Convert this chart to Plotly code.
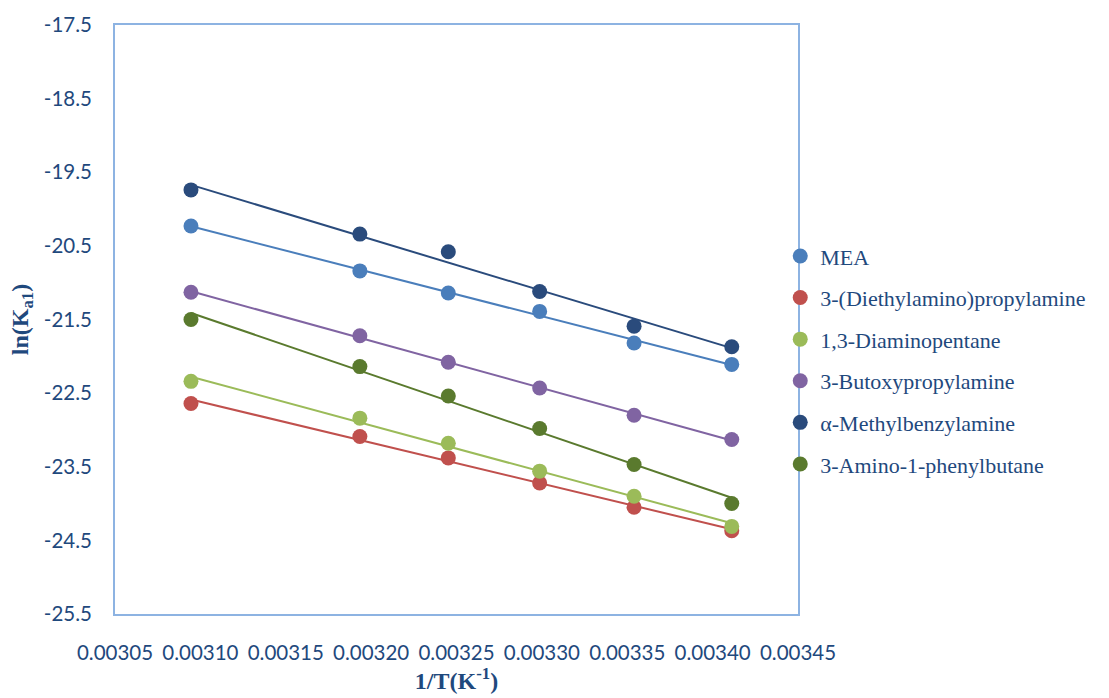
import numpy as np
import plotly.graph_objects as go

# Inverse temperature, 1/T (K^-1), for 323.15 ... 293.15 K
inv_T = [0.0030945, 0.0031934, 0.0032452, 0.0032987, 0.0033540, 0.0034112]

# ln(Ka1) for each amine
mea = [-20.23, -20.84, -21.14, -21.39, -21.82, -22.11]
diethylaminopropylamine = [-22.64, -23.09, -23.38, -23.72, -24.05, -24.37]
diaminopentane = [-22.34, -22.84, -23.18, -23.56, -23.90, -24.31]
butoxypropylamine = [-21.13, -21.72, -22.08, -22.43, -22.80, -23.13]
methylbenzylamine = [-19.74, -20.34, -20.58, -21.12, -21.59, -21.87]
aminophenylbutane = [-21.50, -22.14, -22.54, -22.98, -23.47, -24.00]

series_names = [
    "MEA",
    "3-(Diethylamino)propylamine",
    "1,3-Diaminopentane",
    "3-Butoxypropylamine",
    "α-Methylbenzylamine",
    "3-Amino-1-phenylbutane",
]
series_values = [mea, diethylaminopropylamine, diaminopentane,
                 butoxypropylamine, methylbenzylamine, aminophenylbutane]
colors = ["#4A7EBB", "#C0504D", "#9BBB59", "#8064A2", "#2A4B7C", "#5A7A2E"]

y_ticks = [-17.5, -18.5, -19.5, -20.5, -21.5, -22.5, -23.5, -24.5, -25.5]
x_ticks = [0.00305, 0.00310, 0.00315, 0.00320, 0.00325, 0.00330, 0.00335, 0.00340, 0.00345]

text_color = "#1F497D"
frame_color = "#8DB3E2"

fig = go.Figure()

x = np.array(inv_T)
for name, vals, col in zip(series_names, series_values, colors):
    # linear trendline fitted to the points
    slope, intercept = np.polyfit(x, np.array(vals), 1)
    xs = [x.min(), x.max()]
    fig.add_trace(go.Scatter(
        x=xs, y=[slope * v + intercept for v in xs], mode="lines",
        line=dict(color=col, width=2), showlegend=False, hoverinfo="skip",
        legendgroup=name,
    ))

for name, vals, col in zip(series_names, series_values, colors):
    fig.add_trace(go.Scatter(
        x=inv_T, y=vals, mode="markers", name=name, legendgroup=name,
        marker=dict(color=col, size=15, line=dict(width=0)),
    ))

fig.update_layout(
    width=1109, height=698,
    margin=dict(l=115, r=311, t=19, b=82),
    paper_bgcolor="white", plot_bgcolor="white",
    showlegend=True,
    legend=dict(
        x=0.974, y=0.431, xanchor="left", yanchor="middle",
        font=dict(family="Liberation Serif", size=22, color=text_color),
        tracegroupgap=10, bgcolor="rgba(0,0,0,0)", itemclick=False,
    ),
    xaxis=dict(
        range=[0.00305, 0.00345], tickvals=x_ticks,
        ticktext=[f"{v:.5f}" for v in x_ticks],
        showgrid=False, zeroline=False,
        showline=True, linecolor=frame_color, linewidth=2, mirror=True,
        ticks="outside", ticklen=19, tickcolor="rgba(0,0,0,0)",
        tickfont=dict(family="Lato", size=20.5, color=text_color),
        title=dict(text="<b>1/T(K<sup>-1</sup>)</b>", standoff=6,
                   font=dict(family="Liberation Serif", size=24, color=text_color)),
    ),
    yaxis=dict(
        range=[-25.5, -17.5], tickvals=y_ticks,
        ticktext=[f"{v:.1f}" for v in y_ticks],
        showgrid=False, zeroline=False,
        showline=True, linecolor=frame_color, linewidth=2, mirror=True,
        ticks="outside", ticklen=17, tickcolor="rgba(0,0,0,0)",
        tickfont=dict(family="Lato", size=20.5, color=text_color),
        title=dict(text="<b>ln(K<sub>a1</sub>)</b>", standoff=8,
                   font=dict(family="Liberation Serif", size=24, color=text_color)),
    ),
)

fig.write_html("out.html")
